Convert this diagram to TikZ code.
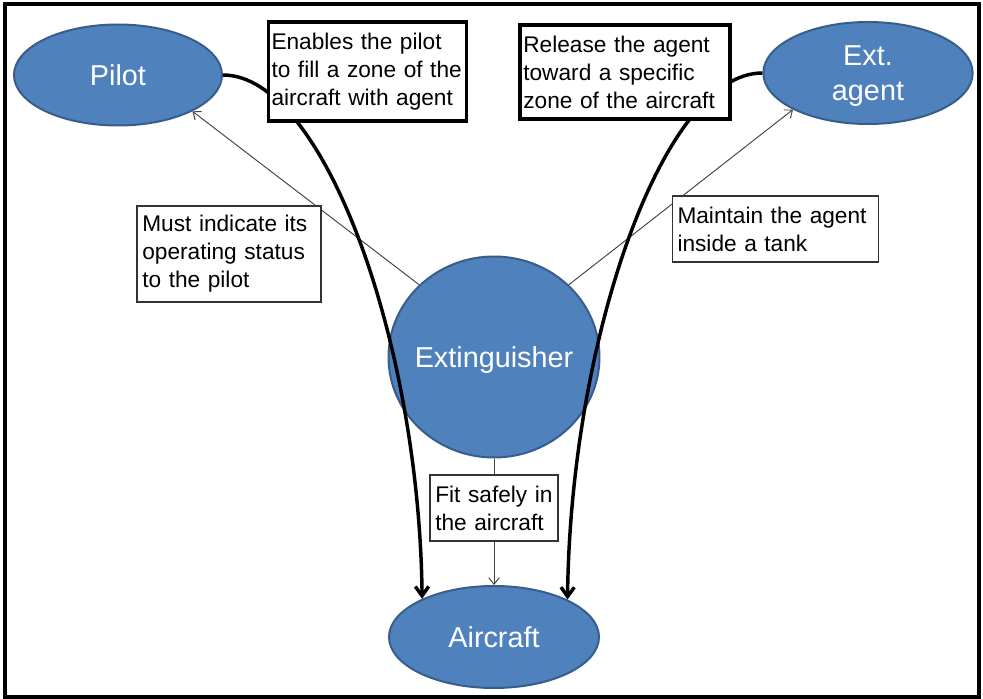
\documentclass[tikz,border=0pt]{standalone}
\usepackage{fontspec}
\setmainfont{Liberation Sans}
\usepackage{tikz}
\usetikzlibrary{shapes.geometric,arrows.meta}

\definecolor{blobfill}{RGB}{79,129,189}
\definecolor{blobedge}{RGB}{56,93,138}

\tikzset{
  blob/.style={ellipse, draw=blobedge, line width=1.5pt, fill=blobfill, text=white, inner sep=-8pt, text depth=0pt, align=center, font=\fontsize{21.6}{26}\selectfont},
  note/.style={draw=black!80, fill=white, line width=0.8pt, inner xsep=4pt, inner ysep=0pt, align=left, font=\fontsize{17}{21}\selectfont},
  boldnote/.style={note, draw=black, line width=2.3pt, inner xsep=2.5pt},
  thinarrow/.style={draw=black!75, line width=0.7pt, -{Straight Barb[length=5pt,width=8pt]}},
  heavyarrow/.style={line width=2.6pt, -{Straight Barb[length=7pt,width=10pt]}}
}

\begin{document}
\begin{tikzpicture}[x=0.75pt,y=0.75pt,yscale=-1,xscale=1]
\useasboundingbox (0,0) rectangle (983,699);

%Shape: Rectangle 
\draw [line width=2.6pt]  (5,4) rectangle (979,697) ;

%Shape: Ellipse 
\node [blob, minimum width=156pt, minimum height=75.75pt] (pilot) at (118,75) {Pilot};
%Shape: Ellipse 
\node [blob, minimum width=157pt, minimum height=76.5pt] (agent) at (868,73) {Ext.\\agent};
%Shape: Ellipse 
\node [blob, minimum width=158.25pt, minimum height=150.75pt] (ext) at (494,357) {Extinguisher};
%Shape: Ellipse 
\node [blob, minimum width=157.5pt, minimum height=76.5pt] (aircraft) at (494,637) {Aircraft};

%Straight Lines 
\draw [thinarrow]   (ext.136) -- (pilot.-26) ;
%Straight Lines 
\draw [thinarrow]   (ext.44) -- (agent.206) ;
%Straight Lines 
\draw [thinarrow]   (ext.south) -- (aircraft.north) ;

%Curve Lines 
\draw [heavyarrow]   (pilot.east) .. controls +(100,0) and +(-3,-259) .. (aircraft.152) ;
%Curve Lines 
\draw [heavyarrow]   (agent.west) .. controls +(-100,0) and +(3,-259) .. (aircraft.27) ;

% Text Node
\node [boldnote, text width=144pt, minimum height=74.25pt] (fill) at (367.5,71.5) {Enables the pilot\\to fill a zone of the\\aircraft with agent};
% Text Node
\node [boldnote, text width=152.5pt, minimum height=70.5pt] (release) at (625,72) {Release the agent\\toward a specific\\zone of the aircraft};
% Text Node
\node [note, text width=130pt, minimum height=72pt] (status) at (229,254) {Must indicate its\\operating status\\to the pilot};
% Text Node
\node [note, text width=147pt, minimum height=49.5pt] (tank) at (775.5,229) {Maintain the agent\\inside a tank};
% Text Node
\node [note, text width=88pt, minimum height=49.5pt] (fit) at (494,508) {Fit safely in\\the aircraft};

\end{tikzpicture}
\end{document}
